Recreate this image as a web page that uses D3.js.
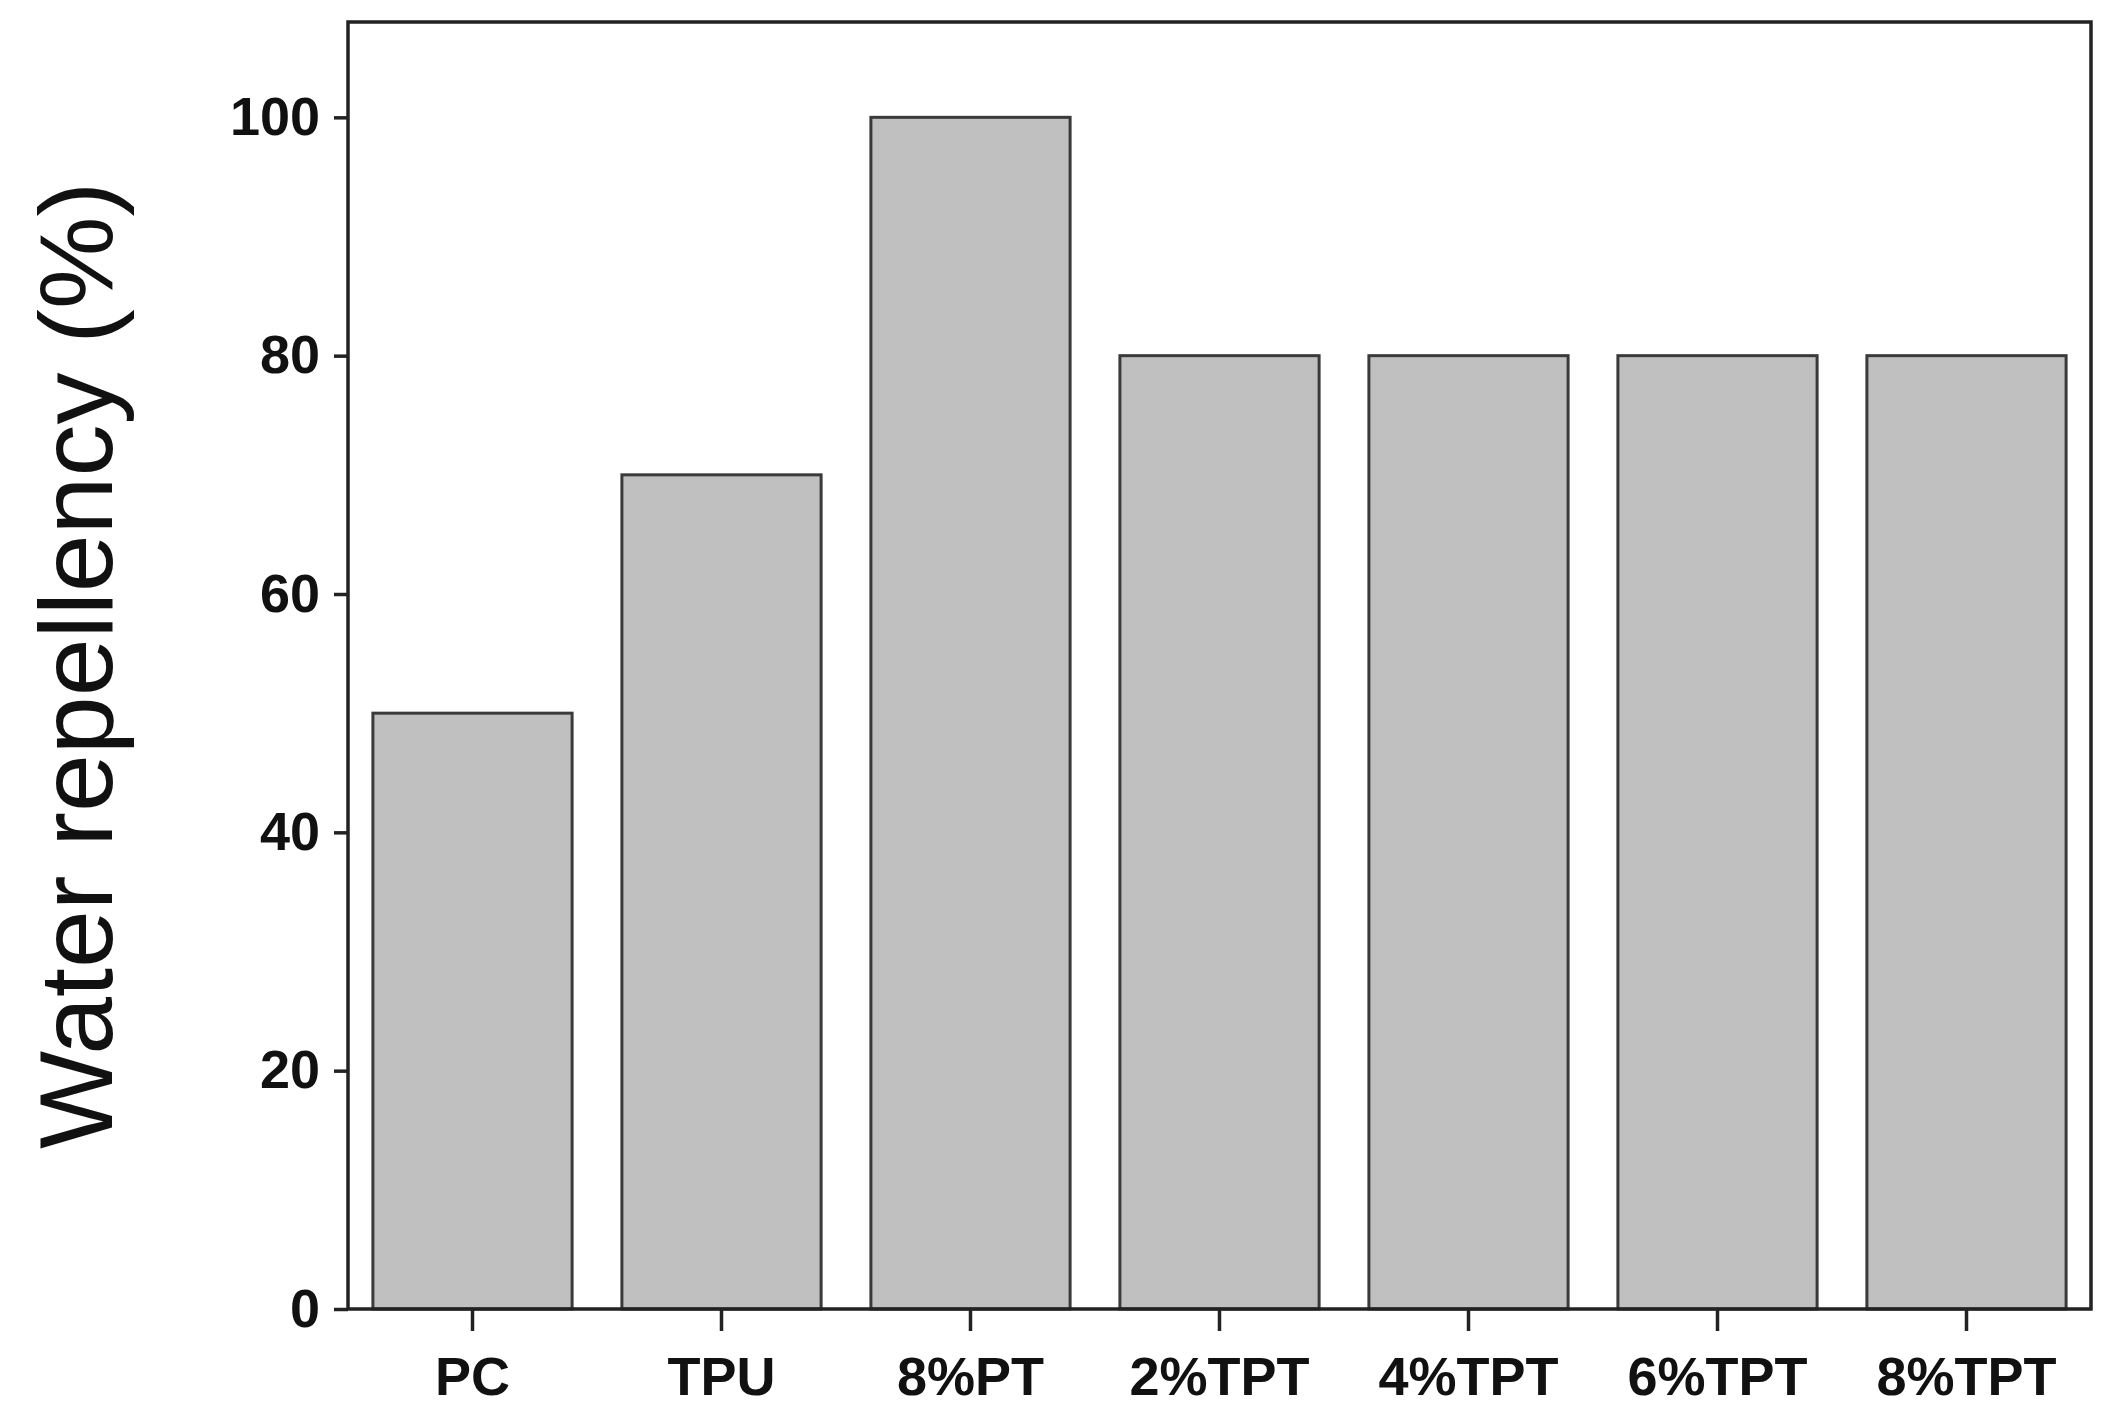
<!DOCTYPE html>
<html>
<head>
<meta charset="utf-8">
<script src="https://cdn.jsdelivr.net/npm/d3@7"></script>
<style>
body { margin: 0; background: #fff; }
text { font-family: "Liberation Sans", Arial, sans-serif; }
</style>
</head>
<body>
<script>
var width = 2113;
var height = 1426;
var margin = {top: 22, right: 22, bottom: 117, left: 348};

var categories = ["PC", "TPU", "8%PT", "2%TPT", "4%TPT", "6%TPT", "8%TPT"];
var values = [50, 70, 100, 80, 80, 80, 80];
var yTicks = [0, 20, 40, 60, 80, 100];

var svg = d3.select("body").append("svg")
    .attr("width", width)
    .attr("height", height);

var x = d3.scaleBand()
    .domain(categories)
    .range([margin.left, width - margin.right])
    .paddingInner(0.2)
    .paddingOuter(0.1);

var y = d3.scaleLinear()
    .domain([0, 108])
    .range([height - margin.bottom, margin.top]);

// bars
svg.selectAll(".bar")
    .data(values)
    .enter()
    .append("rect")
    .attr("class", "bar")
    .attr("x", function (d, i) { return x(categories[i]); })
    .attr("y", function (d) { return y(d); })
    .attr("width", x.bandwidth())
    .attr("height", function (d) { return y(0) - y(d); })
    .style("fill", "#c0c0c0")
    .style("stroke", "#3a3a3a")
    .style("stroke-width", 3);

// frame
svg.append("rect")
    .attr("x", margin.left)
    .attr("y", margin.top)
    .attr("width", width - margin.left - margin.right)
    .attr("height", height - margin.top - margin.bottom)
    .style("fill", "none")
    .style("stroke", "#222")
    .style("stroke-width", 3.5);

var yAxis = svg.append("g")
    .attr("transform", "translate(" + margin.left + ",0)")
    .call(d3.axisLeft(y).tickValues(yTicks).tickSize(14).tickPadding(14));

var xAxis = svg.append("g")
    .attr("transform", "translate(0," + (height - margin.bottom) + ")")
    .call(d3.axisBottom(x).tickSize(22).tickPadding(26));

[yAxis, xAxis].forEach(function (g) {
    g.select(".domain").remove();
    g.selectAll("line").style("stroke", "#222").style("stroke-width", 3.5);
    g.selectAll("text")
        .style("font-size", "54px")
        .style("font-weight", "bold")
        .style("fill", "#111")
        .style("font-family", "'Liberation Sans', Arial, sans-serif");
});

svg.append("text")
    .attr("transform", "translate(112," + ((margin.top + height - margin.bottom) / 2) + ") rotate(-90)")
    .attr("text-anchor", "middle")
    .style("font-size", "104px")
    .style("fill", "#111")
    .text("Water repellency (%)");
</script>
</body>
</html>
